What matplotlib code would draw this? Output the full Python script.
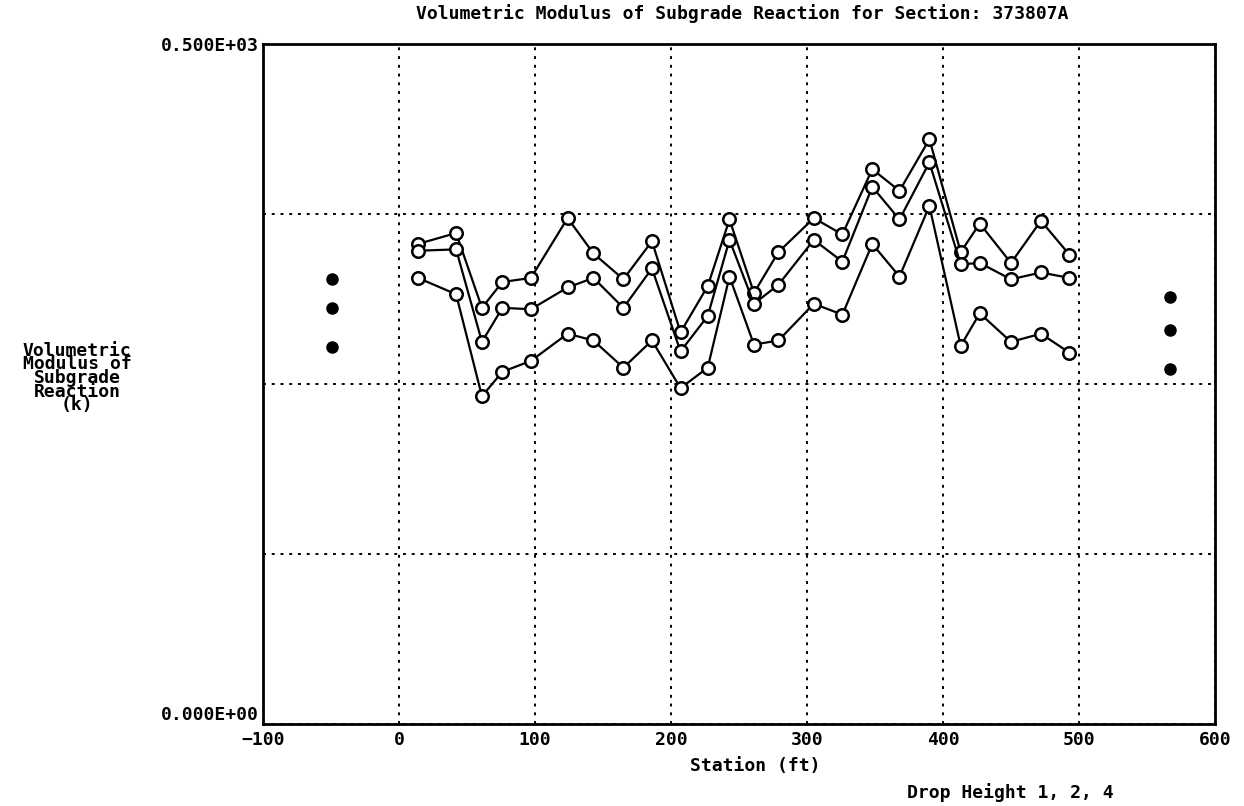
import matplotlib
matplotlib.use("Agg")
from matplotlib import pyplot as plt
import numpy as np

# station positions (ft)
stations = [14, 42, 61, 76, 97, 124, 143, 165, 186, 207, 227, 243,
            261, 279, 305, 326, 348, 368, 390, 413, 427, 450, 472, 493]

# k values for the three drop heights
k_upper = [353, 361, 306, 325, 328, 372, 346, 327, 355, 288, 322, 371,
           317, 347, 372, 360, 408, 392, 430, 347, 368, 339, 370, 345]
k_middle = [348, 349, 281, 306, 305, 321, 328, 306, 335, 274, 300, 356,
            309, 323, 356, 340, 395, 371, 413, 338, 339, 327, 332, 328]
k_lower = [328, 316, 241, 259, 267, 287, 282, 262, 282, 247, 262, 329,
           279, 282, 309, 301, 353, 329, 381, 278, 302, 281, 287, 273]

# summary dots drawn left and right of the data
left_x = [-49, -49, -49]
left_k = [327, 306, 277]
right_x = [567, 567, 567]
right_k = [314, 290, 261]

x_ticks = [-100, 0, 100, 200, 300, 400, 500, 600]
y_ticks = [0, 125, 250, 375, 500]
y_ticklabels = ['0.000E+00', '', '', '', '0.500E+03']

mono = 'DejaVu Sans Mono'
fs = 13

fig = plt.figure(figsize=(12.44, 8.06), dpi=100)
ax = fig.add_axes([0.2114, 0.1017, 0.7653, 0.8437])

for k in [k_upper, k_middle, k_lower]:
    ax.plot(stations, k, color='black', linewidth=1.6, marker='o',
            markersize=9, markerfacecolor='white', markeredgecolor='black',
            markeredgewidth=1.8, zorder=3)

ax.plot(left_x, left_k, 'o', color='black', markersize=8, zorder=3)
ax.plot(right_x, right_k, 'o', color='black', markersize=8, zorder=3)

ax.set_xlim(-100, 600)
ax.set_ylim(0, 500)
ax.set_xticks(x_ticks)
ax.set_yticks(y_ticks)
ax.set_yticklabels(y_ticklabels)
ax.tick_params(axis='x', length=0, pad=5)
ax.tick_params(axis='y', length=0, pad=3)
for lbl in ax.get_xticklabels() + ax.get_yticklabels():
    lbl.set_fontfamily(mono)
    lbl.set_fontweight('bold')
    lbl.set_fontsize(fs)
# bottom y label sits just above the axis line, as in the original
ax.get_yticklabels()[0].set_verticalalignment('bottom')
ax.grid(True, color='black', linestyle=(0, (1.5, 3)), linewidth=1.4)
for s in ax.spines.values():
    s.set_linewidth(2)

fig.text(0.597, 0.983,
         'Volumetric Modulus of Subgrade Reaction for Section: 373807A',
         ha='center', va='center', fontfamily=mono, fontweight='bold',
         fontsize=fs)
fig.text(0.607, 0.050, 'Station (ft)', ha='center', va='center',
         fontfamily=mono, fontweight='bold', fontsize=fs)

fig.text(0.062, 0.531, 'Volumetric\nModulus of\nSubgrade\nReaction\n(k)',
         ha='center', va='center', fontfamily=mono, fontweight='bold',
         fontsize=fs, linespacing=0.68)
fig.text(0.812, 0.017, 'Drop Height 1, 2, 4', ha='center', va='center',
         fontfamily=mono, fontweight='bold', fontsize=fs)

fig.savefig('out.png', dpi=100)
